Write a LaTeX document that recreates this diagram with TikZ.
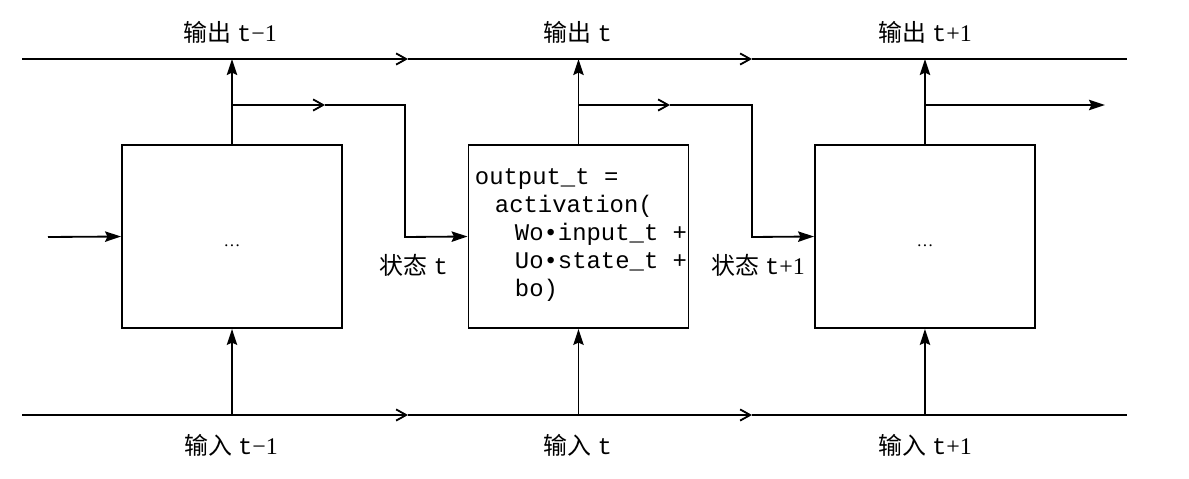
\documentclass[tikz,border=0pt]{standalone}
\usepackage{fontspec}
\setmainfont{Liberation Serif}
\setmonofont{Liberation Mono}
\newfontfamily\cjk{Noto Sans CJK SC}
\usetikzlibrary{arrows.meta, positioning}
\tikzset{node distance = 8.66cm, on grid,
         >= {Stealth[length = 4mm, width = 2.6mm, inset = 0.6mm]},
         cell/.style = {draw, minimum width = 5.5cm, minimum height = 4.575cm,
                        text height = 14pt, text depth = 0pt,
                        font = \fontsize{12}{14}\selectfont},
         flow/.style = {-{Straight Barb[length = 2.5mm, width = 2.8mm]}},
         lbl/.style = {font = \fontsize{17}{20}\selectfont},
         code/.style = {align = left, inner sep = 0pt,
                        font = \fontsize{17}{19.9}\selectfont\ttfamily}}

\begin{document}
\begin{tikzpicture}[x = 0.025cm, y = -0.025cm, line width = 1.3pt]
              \useasboundingbox (0,0) rectangle (1189,479);

              \node[cell]		       (cellA) at (232,236.5) {\dots};
              \node[cell]		       (cellB) [right of = cellA] {};
              \node[cell]		       (cellC) [right of = cellB] {\dots};

              \node[code, anchor = north west] (eq) at (474,168)
                {output\_t =\\
                 \hspace*{0.5cm}activation(\\
                 \hspace*{1cm}Wo•input\_t +\\
                 \hspace*{1cm}Uo•state\_t +\\
                 \hspace*{1cm}bo)};

              % top and bottom lines
              \coordinate (outL) at (22,59);
              \coordinate (outA) at (408,59);
              \coordinate (outB) at (752,59);
              \coordinate (outR) at (1127,59);
              \coordinate (inL)  at (22,415);
              \coordinate (inA)  at (408,415);
              \coordinate (inB)  at (752,415);
              \coordinate (inR)  at (1127,415);

              \path[flow] (outL) edge (outA);
              \path[flow] (outA) edge (outB);
              \draw       (outB) -- (outR);
              \path[flow] (inL)  edge (inA);
              \path[flow] (inA)  edge (inB);
              \draw       (inB)  -- (inR);

              % outputs and inputs
              \path[->] (cellA) edge (cellA |- outL);
              \path[->] (cellB) edge (cellB |- outL);
              \path[->] (cellC) edge (cellC |- outL);
              \path[->] (cellA |- inL) edge (cellA.south);
              \path[->] (cellB |- inL) edge (cellB.south);
              \path[->] (cellC |- inL) edge (cellC.south);

              % state
              \coordinate (start) at (48,237);
              \coordinate (kA) at (232,105);
              \coordinate (sA) at (325,105);
              \coordinate (dA) at (405,237);
              \coordinate (kB) at (578,105);
              \coordinate (sB) at (670,105);
              \coordinate (dB) at (752,237);
              \coordinate (kC) at (925,105);
              \coordinate (endC) at (1105,105);

              \path[->] (start) edge (cellA.west);
              \path[flow] (kA) edge (sA);
              \draw[->] (sA) -| (dA) -- (cellB.west);
              \path[flow] (kB) edge (sB);
              \draw[->] (sB) -| (dB) -- (cellC.west);
              \path[->] (kC) edge (endC);

              % labels
              \node[lbl] (yA) at (230,32)  {{\cjk 输出} \texttt{t}−1};
              \node[lbl] (yB) at (578,32)  {{\cjk 输出} \texttt{t}};
              \node[lbl] (yC) at (925,32)  {{\cjk 输出} \texttt{t}+1};
              \node[lbl] (xA) at (231,445) {{\cjk 输入} \texttt{t}−1};
              \node[lbl] (xB) at (578,445) {{\cjk 输入} \texttt{t}};
              \node[lbl] (xC) at (925,445) {{\cjk 输入} \texttt{t}+1};
              \node[lbl] (hA) at (414,265) {{\cjk 状态} \texttt{t}};
              \node[lbl] (hB) at (758,265) {{\cjk 状态} \texttt{t}+1};

            \end{tikzpicture}
\end{document}
